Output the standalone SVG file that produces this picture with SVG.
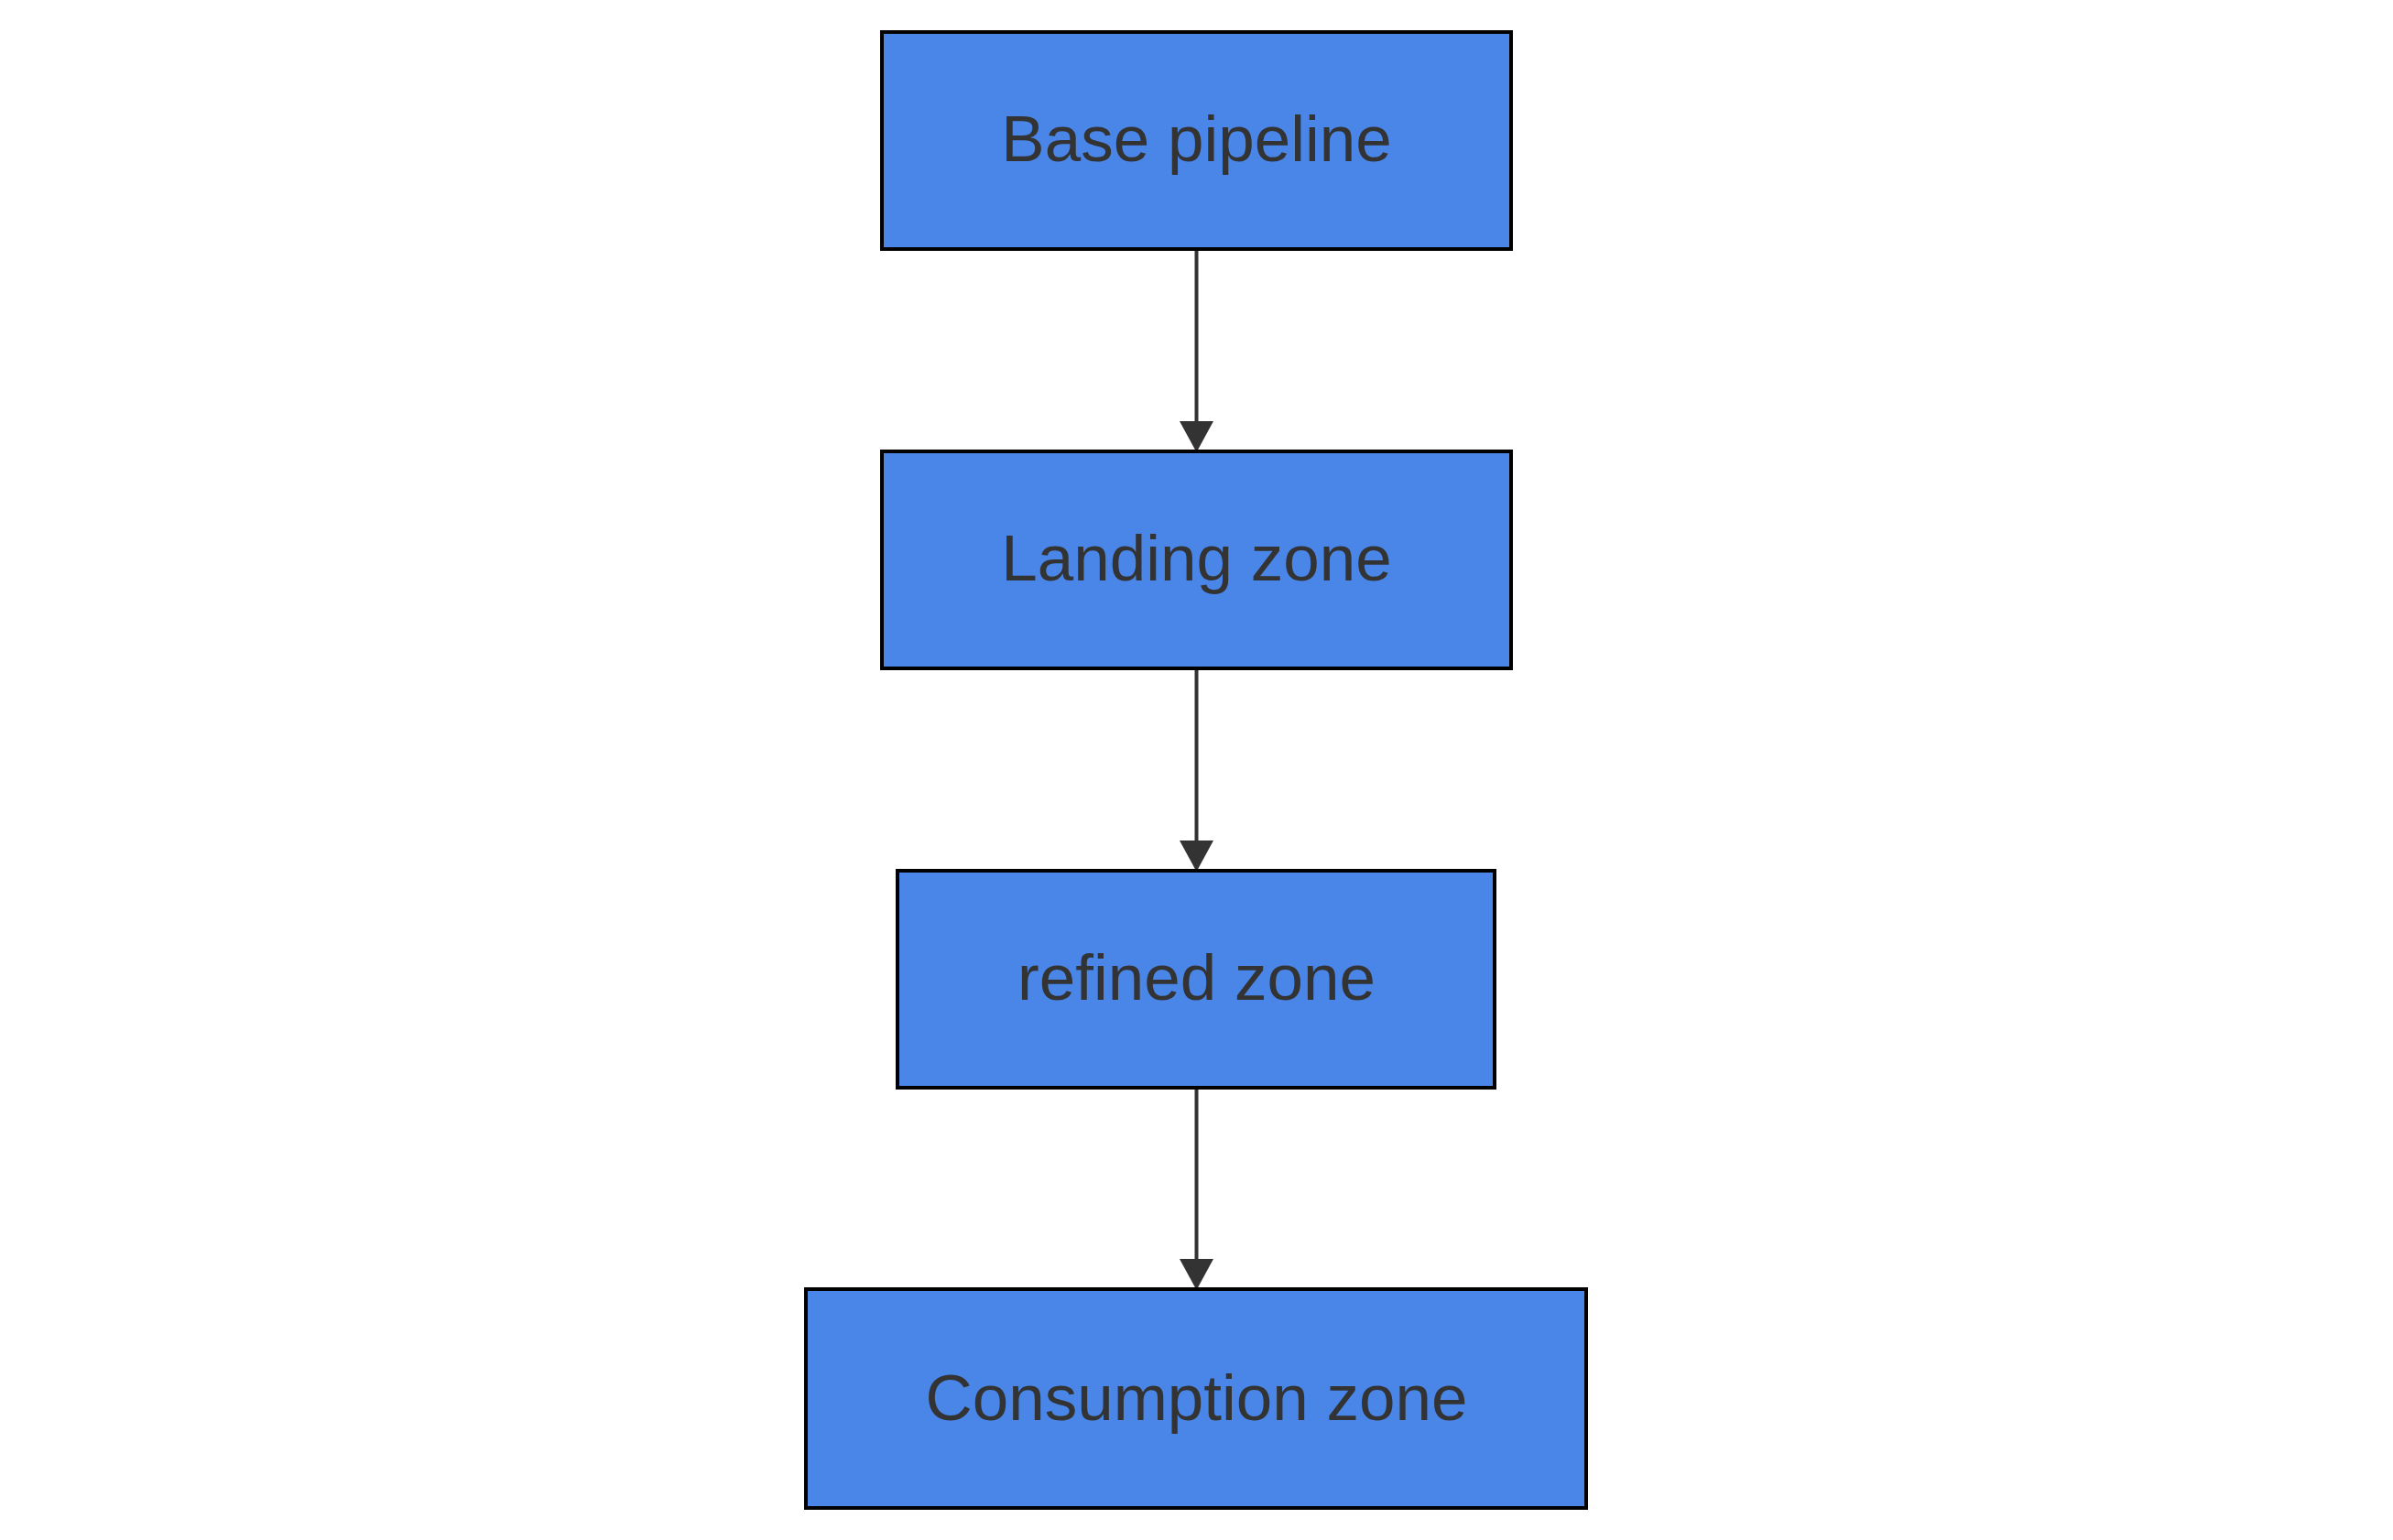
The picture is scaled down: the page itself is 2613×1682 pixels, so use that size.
<svg xmlns="http://www.w3.org/2000/svg" width="2613" height="1682" viewBox="0 0 2613 1682">
<style>
.node rect{fill:#4a86e8;stroke:#000;stroke-width:4}
.node text{font-family:"Liberation Sans",Arial,sans-serif;font-size:71px;fill:#333;text-anchor:middle}
.edge{stroke:#333;stroke-width:4;fill:none}
.head{fill:#333}
</style>
<rect width="2613" height="1682" fill="#fff"/>
<g id="edges">
<line class="edge" x1="1306.5" y1="272" x2="1306.5" y2="462"/>
<path class="head" d="M1288,460 L1325,460 L1306.5,494 z"/>
<line class="edge" x1="1306.5" y1="730" x2="1306.5" y2="920"/>
<path class="head" d="M1288,918 L1325,918 L1306.5,952 z"/>
<line class="edge" x1="1306.5" y1="1188" x2="1306.5" y2="1377"/>
<path class="head" d="M1288,1375 L1325,1375 L1306.5,1409 z"/>
</g>
<g id="n1" class="node"><rect x="963" y="35" width="687" height="237"/><text x="1306.5" y="176">Base pipeline</text></g>
<g id="n2" class="node"><rect x="963" y="493" width="687" height="237"/><text x="1306.5" y="634">Landing zone</text></g>
<g id="n3" class="node"><rect x="980" y="951" width="652" height="237"/><text x="1306.5" y="1092">refined zone</text></g>
<g id="n4" class="node"><rect x="880" y="1408" width="852" height="239"/><text x="1306.5" y="1551">Consumption zone</text></g>
</svg>
